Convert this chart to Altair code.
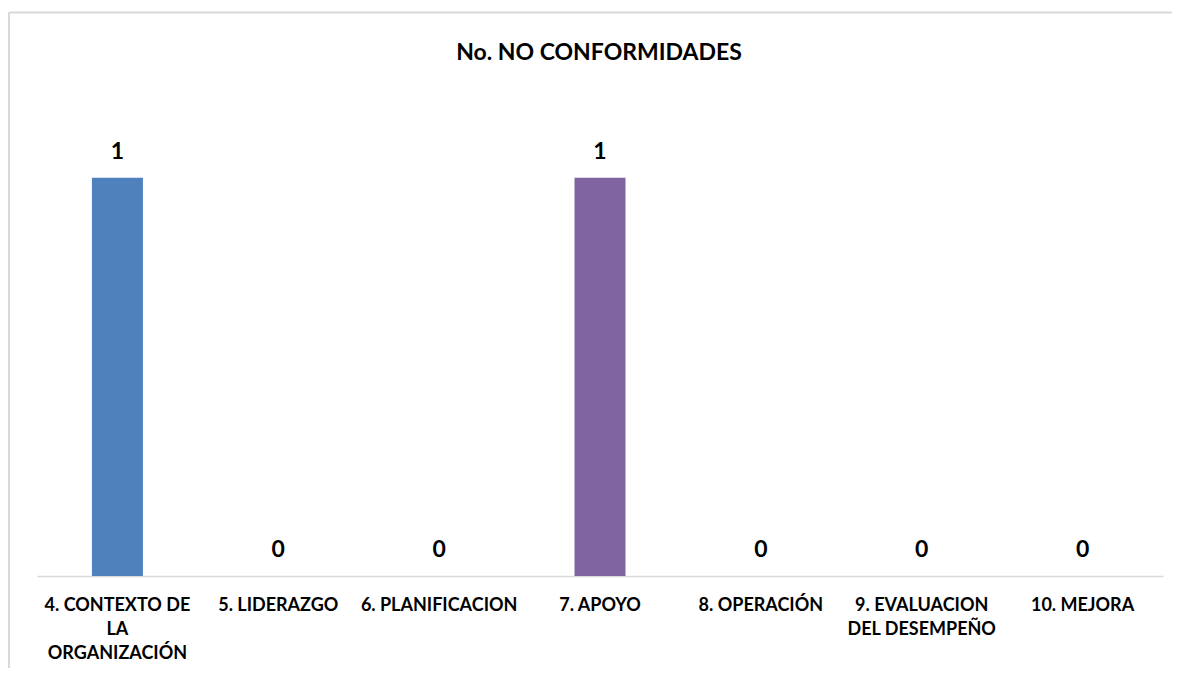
import altair as alt
import pandas as pd

categories = [
    "4. CONTEXTO DE|LA|ORGANIZACIÓN",
    "5. LIDERAZGO",
    "6. PLANIFICACION",
    "7. APOYO",
    "8. OPERACIÓN",
    "9. EVALUACION|DEL DESEMPEÑO",
    "10. MEJORA",
]
values = [1, 0, 0, 1, 0, 0, 0]
colors = ["#4F81BD", "#C0504D", "#9BBB59", "#8064A2", "#4BACC6", "#F79646", "#2C4D75"]
title_text = "No. NO CONFORMIDADES"

df = pd.DataFrame({"cat": categories, "val": values})
FONT = "Lato"

x_enc = alt.X(
    "cat:N",
    sort=categories,
    title=None,
    scale=alt.Scale(paddingInner=0.68, paddingOuter=0.34),
    axis=alt.Axis(
        labelExpr="split(datum.label, '|')",
        labelAngle=0,
        labelFont=FONT,
        labelFontSize=18,
        labelFontWeight="bold",
        labelColor="#000000",
        labelPadding=20,
        labelLineHeight=24,
        labelBaseline="top",
        ticks=False,
        domainColor="#D9D9D9",
        domainWidth=1.5,
        labelLimit=0,
    ),
)
y_enc = alt.Y("val:Q", scale=alt.Scale(domain=[0, 1.2]), axis=None)

bars = alt.Chart(df).mark_bar(size=51).encode(
    x=x_enc,
    y=y_enc,
    color=alt.Color("cat:N", sort=categories, scale=alt.Scale(domain=categories, range=colors), legend=None),
)
texts = alt.Chart(df).mark_text(
    font=FONT, fontSize=23, fontWeight="bold", color="#000000", baseline="alphabetic", dy=-19
).encode(x=alt.X("cat:N", sort=categories), y="val:Q", text="val:Q")

one = pd.DataFrame({"t": [title_text]})
title = alt.Chart(one).mark_text(
    font=FONT, fontSize=23, fontWeight="bold", color="#000000", baseline="alphabetic", align="center"
).encode(x=alt.value(562), y=alt.value(-38), text="t:N")

border = alt.Chart(one).mark_rule(color="#D9D9D9", strokeWidth=2).encode(
    x=alt.value(-28), x2=alt.value(1300), y=alt.value(-85.5)
)
border2 = alt.Chart(one).mark_rule(color="#D9D9D9", strokeWidth=2).encode(
    x=alt.value(-28), y=alt.value(-85.5), y2=alt.value(700)
)

chart = (
    alt.layer(bars, texts, title, border, border2)
    .properties(
        width=1126,
        height=478,
        autosize=alt.AutoSizeParams(type="none"),
        padding={"left": 29, "top": 90, "right": 9, "bottom": 92},
    )
    .configure_view(stroke=None)
)

chart.save("out.html", embed_options={"renderer": "svg", "actions": False})
